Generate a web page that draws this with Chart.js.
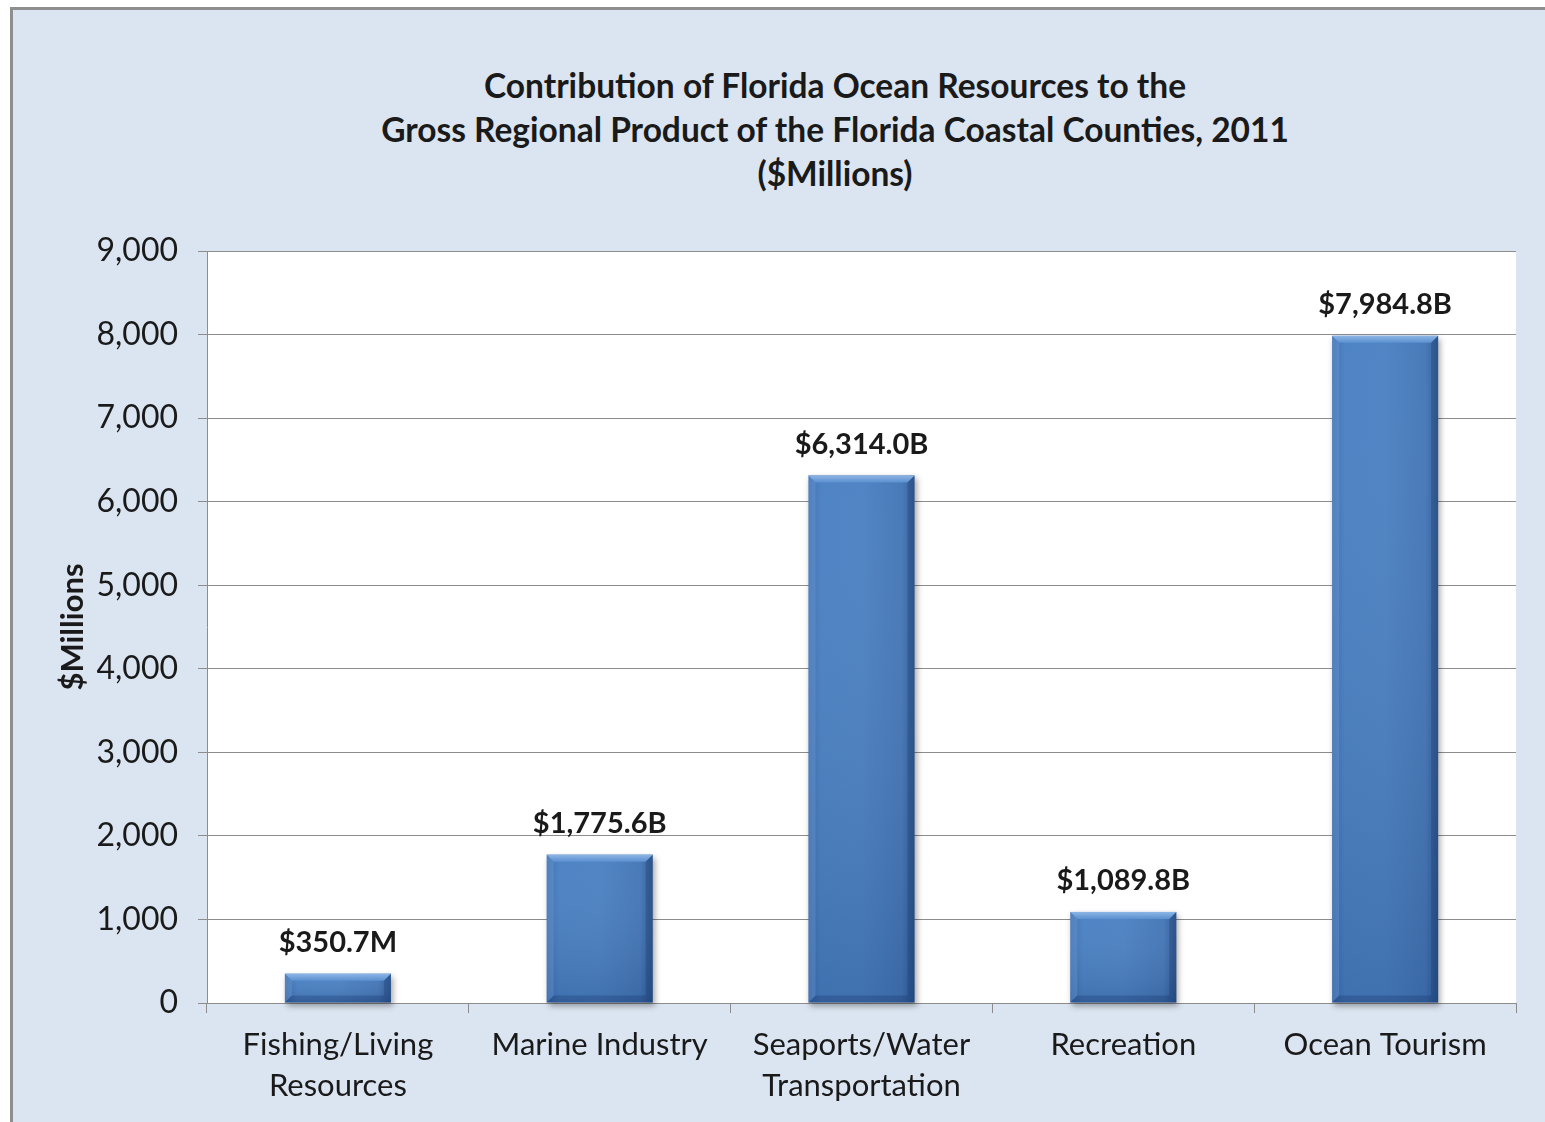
<!DOCTYPE html>
<html>
<head>
<meta charset="utf-8">
<script src="https://cdn.jsdelivr.net/npm/chart.js@4.4.1/dist/chart.umd.min.js"></script>
<style>
  html, body { margin: 0; padding: 0; background: #ffffff; overflow: hidden; width: 1545px; height: 1122px; }
  #frame { position: absolute; left: 10px; top: 7px; width: 1545px; height: 1122px; background: #dbe5f1;
           border-left: 3px solid #8e8e8e; border-top: 3px solid #8e8e8e; }
  #title { position: absolute; left: 235px; width: 1200px; top: 63px; text-align: center;
           font-family: Lato, 'Open Sans', sans-serif; font-weight: bold; font-size: 33.5px; line-height: 44px; color: #1a1a1a; }
  #c { position: absolute; left: 13px; top: 10px; }
</style>
</head>
<body>
<div id="frame"></div>
<div id="title">Contribution of Florida Ocean Resources to the<br>Gross Regional Product of the Florida Coastal Counties, 2011<br>($Millions)</div>
<canvas id="c" width="1532" height="1112"></canvas>
<script>
const categories = [["Fishing/Living", "Resources"], "Marine Industry", ["Seaports/Water", "Transportation"], "Recreation", "Ocean Tourism"];
const values = [350.7, 1775.6, 6314.0, 1089.8, 7984.8];
const valueLabels = ["$350.7M", "$1,775.6B", "$6,314.0B", "$1,089.8B", "$7,984.8B"];
const yAxisTitle = "$Millions";

const FONT = "Lato, 'Open Sans', sans-serif";

const plotBg = {
  id: 'plotBg',
  beforeDraw(chart) {
    const {ctx, chartArea: a} = chart;
    ctx.save();
    ctx.fillStyle = '#ffffff';
    ctx.fillRect(a.left, a.top, a.right - a.left, a.bottom - a.top);
    ctx.restore();
  }
};

const bevelBars = {
  id: 'bevelBars',
  afterDatasetsDraw(chart) {
    const ctx = chart.ctx;
    const meta = chart.getDatasetMeta(0);
    meta.data.forEach((bar, i) => {
      const x0 = bar.x - bar.width / 2, x1 = bar.x + bar.width / 2;
      const y0 = bar.y, y1 = bar.base;
      const w = x1 - x0, h = y1 - y0;
      const b = Math.min(7, h / 4);
      ctx.save();
      ctx.shadowColor = 'rgba(0,0,0,0.35)';
      ctx.shadowBlur = 6;
      ctx.shadowOffsetX = 2;
      ctx.shadowOffsetY = 3;
      const g = ctx.createLinearGradient(x0, 0, x1, 0);
      g.addColorStop(0, '#3a6cae');
      g.addColorStop(0.12, '#487fc2');
      g.addColorStop(0.5, '#4a80c2');
      g.addColorStop(0.88, '#4275b6');
      g.addColorStop(1, '#2d5a96');
      ctx.fillStyle = g;
      ctx.fillRect(x0, y0, w, h);
      ctx.shadowColor = 'transparent';
      const gv = ctx.createLinearGradient(0, y0, 0, y1);
      gv.addColorStop(0, 'rgba(255,255,255,0.04)');
      gv.addColorStop(1, 'rgba(10,30,70,0.15)');
      ctx.fillStyle = gv;
      ctx.fillRect(x0, y0, w, h);
      const gt = ctx.createLinearGradient(0, y0, 0, y0 + b);
      gt.addColorStop(0, '#8db5e6');
      gt.addColorStop(1, '#5b90cf');
      ctx.fillStyle = gt;
      ctx.beginPath();
      ctx.moveTo(x0, y0); ctx.lineTo(x1, y0); ctx.lineTo(x1 - b, y0 + b); ctx.lineTo(x0 + b, y0 + b); ctx.closePath();
      ctx.fill();
      ctx.fillStyle = 'rgba(120,165,220,0.30)';
      ctx.beginPath();
      ctx.moveTo(x0, y0); ctx.lineTo(x0 + b, y0 + b); ctx.lineTo(x0 + b, y1 - b); ctx.lineTo(x0, y1); ctx.closePath();
      ctx.fill();
      ctx.fillStyle = 'rgba(20,50,100,0.28)';
      ctx.beginPath();
      ctx.moveTo(x1, y0); ctx.lineTo(x1 - b, y0 + b); ctx.lineTo(x1 - b, y1 - b); ctx.lineTo(x1, y1); ctx.closePath();
      ctx.fill();
      ctx.fillStyle = 'rgba(15,40,90,0.25)';
      ctx.beginPath();
      ctx.moveTo(x0, y1); ctx.lineTo(x0 + b, y1 - b); ctx.lineTo(x1 - b, y1 - b); ctx.lineTo(x1, y1); ctx.closePath();
      ctx.fill();
      ctx.restore();
      ctx.save();
      ctx.font = "bold 29px " + FONT;
      ctx.fillStyle = '#1a1a1a';
      ctx.textAlign = 'center';
      ctx.textBaseline = 'middle';
      ctx.fillText(valueLabels[i], bar.x, y0 - 31);
      ctx.restore();
    });
  }
};

new Chart(document.getElementById('c'), {
  type: 'bar',
  data: {
    labels: categories,
    datasets: [{
      data: values,
      backgroundColor: 'rgba(0,0,0,0)',
      borderWidth: 0,
      barPercentage: 0.405,
      categoryPercentage: 1.0
    }]
  },
  options: {
    responsive: false,
    animation: false,
    devicePixelRatio: 1,
    layout: { padding: { top: 241, right: 29, left: 0, bottom: 0 } },
    plugins: {
      legend: { display: false },
      title: { display: false },
      tooltip: { enabled: false }
    },
    scales: {
      x: {
        afterFit(scale) { scale.height = 119; },
        grid: { display: true, offset: true, drawOnChartArea: false, color: '#8c8c8c', tickLength: 10, lineWidth: 1 },
        border: { display: true, color: '#8c8c8c', width: 1 },
        ticks: { color: '#1a1a1a', font: { family: FONT, size: 31, lineHeight: 1.32 }, padding: 12, maxRotation: 0, autoSkip: false }
      },
      y: {
        min: 0, max: 9000,
        afterFit(scale) { scale.width = 194; },
        grid: { color: '#8c8c8c', tickLength: 9, lineWidth: 1 },
        border: { display: true, color: '#8c8c8c', width: 1 },
        ticks: {
          stepSize: 1000,
          color: '#1a1a1a',
          font: { family: FONT, size: 32 },
          padding: 20,
          callback: (v) => v.toLocaleString('en-US')
        },
        title: { display: true, text: yAxisTitle, color: '#1a1a1a', font: { family: FONT, size: 31, weight: 'bold' }, padding: { top: 41, bottom: 0 } }
      }
    }
  },
  plugins: [plotBg, bevelBars]
});
</script>
</body>
</html>
